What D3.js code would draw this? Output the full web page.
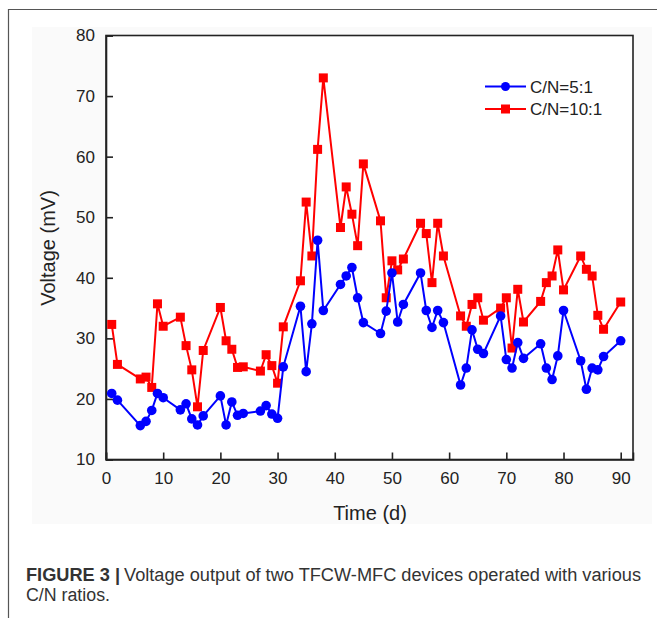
<!DOCTYPE html>
<html><head><meta charset="utf-8">
<script src="https://cdn.jsdelivr.net/npm/d3@7"></script>
<style>body{margin:0;background:#fff;} svg{display:block;font-family:"Liberation Sans",Arial,sans-serif;}</style>
</head><body>
<svg id="c" width="657" height="618"></svg>
<script>
const days = [1,2,6,7,8,9,10,13,14,15,16,17,20,21,22,23,24,27,28,29,30,31,34,35,36,37,38,41,42,43,44,45,48,49,50,51,52,55,56,57,58,59,62,63,64,65,66,69,70,71,72,73,76,77,78,79,80,83,84,85,86,87,90];
const cn5 = [20.9,19.8,15.6,16.3,18.1,20.9,20.2,18.2,19.2,16.7,15.7,17.2,20.5,15.7,19.5,17.3,17.6,18.0,18.9,17.5,16.8,25.3,35.3,24.5,32.4,46.2,34.6,38.9,40.3,41.7,36.7,32.6,30.8,34.5,40.8,32.7,35.6,40.8,34.6,31.8,34.6,32.6,22.3,25.1,31.4,28.2,27.5,33.7,26.5,25.1,29.3,26.7,29.1,25.1,23.2,27.1,34.6,26.3,21.6,25.1,24.8,27.0,29.6];
const cn10 = [32.3,25.7,23.3,23.6,21.9,35.7,32.0,33.5,28.8,24.8,18.7,28.0,35.1,29.6,28.2,25.2,25.3,24.6,27.3,25.5,22.6,31.9,39.5,52.5,43.6,61.2,73.0,48.3,55.0,50.5,45.3,58.8,49.4,36.7,42.8,41.3,43.1,49.0,47.3,39.2,49.0,43.6,33.7,32.0,35.6,36.7,33.0,35.0,36.7,28.4,38.1,32.7,36.1,39.2,40.3,44.6,38.0,43.6,41.4,40.3,33.8,31.5,36.0];
const seriesNames = ["C/N=5:1","C/N=10:1"];
const xTicks = [0,10,20,30,40,50,60,70,80,90];
const yTicks = [10,20,30,40,50,60,70,80];

const svg = d3.select("#c");
// outer frame
svg.append("line").attr("x1",8.5).attr("x2",8.5).attr("y1",9).attr("y2",618).attr("stroke","#555").attr("stroke-width",1.2);
svg.append("line").attr("x1",8).attr("x2",657).attr("y1",9.5).attr("y2",9.5).attr("stroke","#555").attr("stroke-width",1.2);
// light panel
svg.append("rect").attr("x",32).attr("y",27).attr("width",620).attr("height",497).attr("fill","#fafafa");

const L=106, R=633, T=35.5, B=459.5;
const x = d3.scaleLinear().domain([0,92.15]).range([L,R]);
const y = d3.scaleLinear().domain([10,80]).range([B,T]);

svg.append("rect").attr("x",L).attr("y",T).attr("width",R-L).attr("height",B-T).attr("fill","#fff").attr("stroke","#222").attr("stroke-width",1.6);

const xAxis = svg.append("g").attr("transform",`translate(0,${B})`)
  .call(d3.axisBottom(x).tickValues(xTicks).tickSize(-7).tickPadding(12).tickFormat(d3.format("d")));
const yAxis = svg.append("g").attr("transform",`translate(${L},0)`)
  .call(d3.axisLeft(y).tickValues(yTicks).tickSize(-7).tickPadding(11).tickFormat(d3.format("d")));
[xAxis,yAxis].forEach(g=>{
  g.select(".domain").attr("stroke","#222").attr("stroke-width",1.6);
  g.selectAll(".tick line").attr("stroke","#222").attr("stroke-width",1.6);
  g.selectAll(".tick text").attr("font-size",17).attr("fill","#222").attr("font-family","'Liberation Sans',Arial,sans-serif");
});

svg.append("text").attr("x",370).attr("y",520).attr("text-anchor","middle").attr("font-size",20).attr("fill","#222").text("Time (d)");
svg.append("text").attr("transform","translate(55,248) rotate(-90)").attr("text-anchor","middle").attr("font-size",20).attr("fill","#222").text("Voltage (mV)");

const line = d3.line().x(d=>x(d[0])).y(d=>y(d[1]));
const d5 = days.map((d,i)=>[d,cn5[i]]);
const d10 = days.map((d,i)=>[d,cn10[i]]);
const blue="#0000ff", red="#ff0000";

svg.append("path").datum(d10).attr("d",line).attr("fill","none").attr("stroke",red).attr("stroke-width",2);
svg.append("g").selectAll("rect").data(d10).join("rect")
  .attr("x",d=>x(d[0])-4.5).attr("y",d=>y(d[1])-4.5).attr("width",9).attr("height",9).attr("fill",red);
svg.append("path").datum(d5).attr("d",line).attr("fill","none").attr("stroke",blue).attr("stroke-width",2);
svg.append("g").selectAll("circle").data(d5).join("circle")
  .attr("cx",d=>x(d[0])).attr("cy",d=>y(d[1])).attr("r",4.8).attr("fill",blue);

// legend
const lg = svg.append("g");
[[blue,86.5,"c"],[red,109,"s"]].forEach((s,i)=>{
  lg.append("line").attr("x1",485).attr("x2",526).attr("y1",s[1]).attr("y2",s[1]).attr("stroke",s[0]).attr("stroke-width",2);
  if(s[2]==="c") lg.append("circle").attr("cx",505.5).attr("cy",s[1]).attr("r",4.5).attr("fill",s[0]);
  else lg.append("rect").attr("x",501).attr("y",s[1]-4.5).attr("width",9).attr("height",9).attr("fill",s[0]);
  lg.append("text").attr("x",530).attr("y",s[1]+6).attr("font-size",17).attr("fill","#222").text(seriesNames[i]);
});

// caption
const capFont = "'Liberation Sans',Arial,sans-serif";
svg.append("text").attr("x",26).attr("y",581).attr("font-size",18).attr("font-weight","bold").attr("fill","#333")
  .attr("font-family",capFont).attr("textLength",94).attr("lengthAdjust","spacingAndGlyphs").text("FIGURE 3 |");
svg.append("text").attr("x",124).attr("y",581).attr("font-size",18).attr("fill","#333")
  .attr("font-family",capFont).attr("textLength",517).attr("lengthAdjust","spacingAndGlyphs")
  .text("Voltage output of two TFCW-MFC devices operated with various");
svg.append("text").attr("x",26).attr("y",601).attr("font-size",18).attr("fill","#333")
  .attr("font-family",capFont).attr("textLength",84).attr("lengthAdjust","spacingAndGlyphs").text("C/N ratios.");
</script>
</body></html>
